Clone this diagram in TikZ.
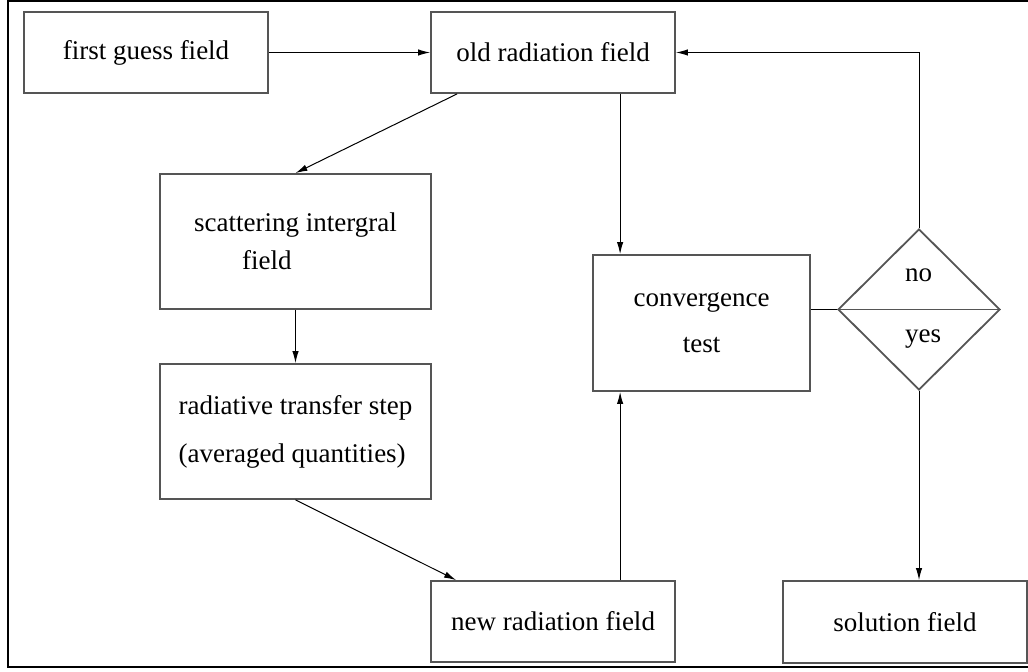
\documentclass[tikz,border=0pt]{standalone}
\usepackage{fontspec}
\setmainfont{Liberation Serif}
\usepackage{tikz}
\usetikzlibrary{shapes.geometric,arrows.meta}
\definecolor{myboxcolor}{HTML}{555555}

\tikzset{%
  fieldbox/.style={draw=myboxcolor, line width=0.9pt, rectangle, inner sep=0pt, font=\fontsize{13.5pt}{19pt}\selectfont},%
  decisionbox/.style={draw=myboxcolor, line width=0.9pt, diamond, inner sep=0pt, minimum width=81pt, minimum height=80.5pt},%
  answertext/.style={anchor=base, inner sep=0pt, font=\fontsize{13.5pt}{19pt}\selectfont},%
  flowarrow/.style={line width=0.5pt, -{Latex[length=6pt,width=3.2pt]}},%
  flowline/.style={line width=0.5pt},%
}

\begin{document}
\begin{tikzpicture}[x=0.5pt, y=-0.5pt]%
\useasboundingbox (0,0) rectangle (1028,672);%
\draw[line width=0.6pt] (1028,1) -- (8,1) -- (8,667) -- (1028,667);%
% boxes
\node[fieldbox, minimum width=122pt, minimum height=40.5pt] (first) at (146, 52.5) {first guess field};%
\node[fieldbox, minimum width=122pt, minimum height=40.5pt] (old) at (553, 52.5) {old radiation field};%
\node[fieldbox, minimum width=135.5pt, minimum height=67.5pt, align=left] (scat) at (295.5, 241.5) {scattering intergral\\\hspace*{24pt}field};%
\node[fieldbox, minimum width=135.5pt, minimum height=67.5pt, align=left] (rad) at (295.5, 431.5) {radiative transfer step\\[5pt](averaged quantities)};%
\node[fieldbox, minimum width=108.5pt, minimum height=68pt, align=center] (conv) at (701.5, 323) {convergence\\[4pt]test};%
\node[fieldbox, minimum width=122pt, minimum height=40.5pt] (new) at (553, 621.5) {new radiation field};%
\node[fieldbox, minimum width=122pt, minimum height=41pt] (sol) at (905, 622) {solution field};%
% decision
\node[decisionbox] (test) at (919, 309.5) {};%
\draw[draw=myboxcolor, line width=0.9pt] (test.west) -- (test.east);%
\node[answertext] (no) at (918.5, 282) {no};%
\node[answertext] (yes) at (923, 343) {yes};%
\coordinate (vx) at ([xshift=14pt]conv.west);%
% connectors
\draw[flowarrow] (first.east) -- (old.west);%
\draw[flowarrow] ([xshift=13.5pt]old.south west) -- (scat.north);%
\draw[flowarrow] (old.south -| vx) -- (conv.north -| vx);%
\draw[flowarrow] (scat.south) -- (rad.north);%
\draw[flowarrow] (rad.south) -- ([xshift=13pt]new.north west);%
\draw[flowarrow] (new.north -| vx) -- (conv.south -| vx);%
\draw[flowline] (conv.east |- test.west) -- (test.west);%
\draw[flowarrow] (test.north) |- (old.east);%
\draw[flowarrow] (test.south) -- (test.south |- sol.north);%
\end{tikzpicture}
\end{document}
